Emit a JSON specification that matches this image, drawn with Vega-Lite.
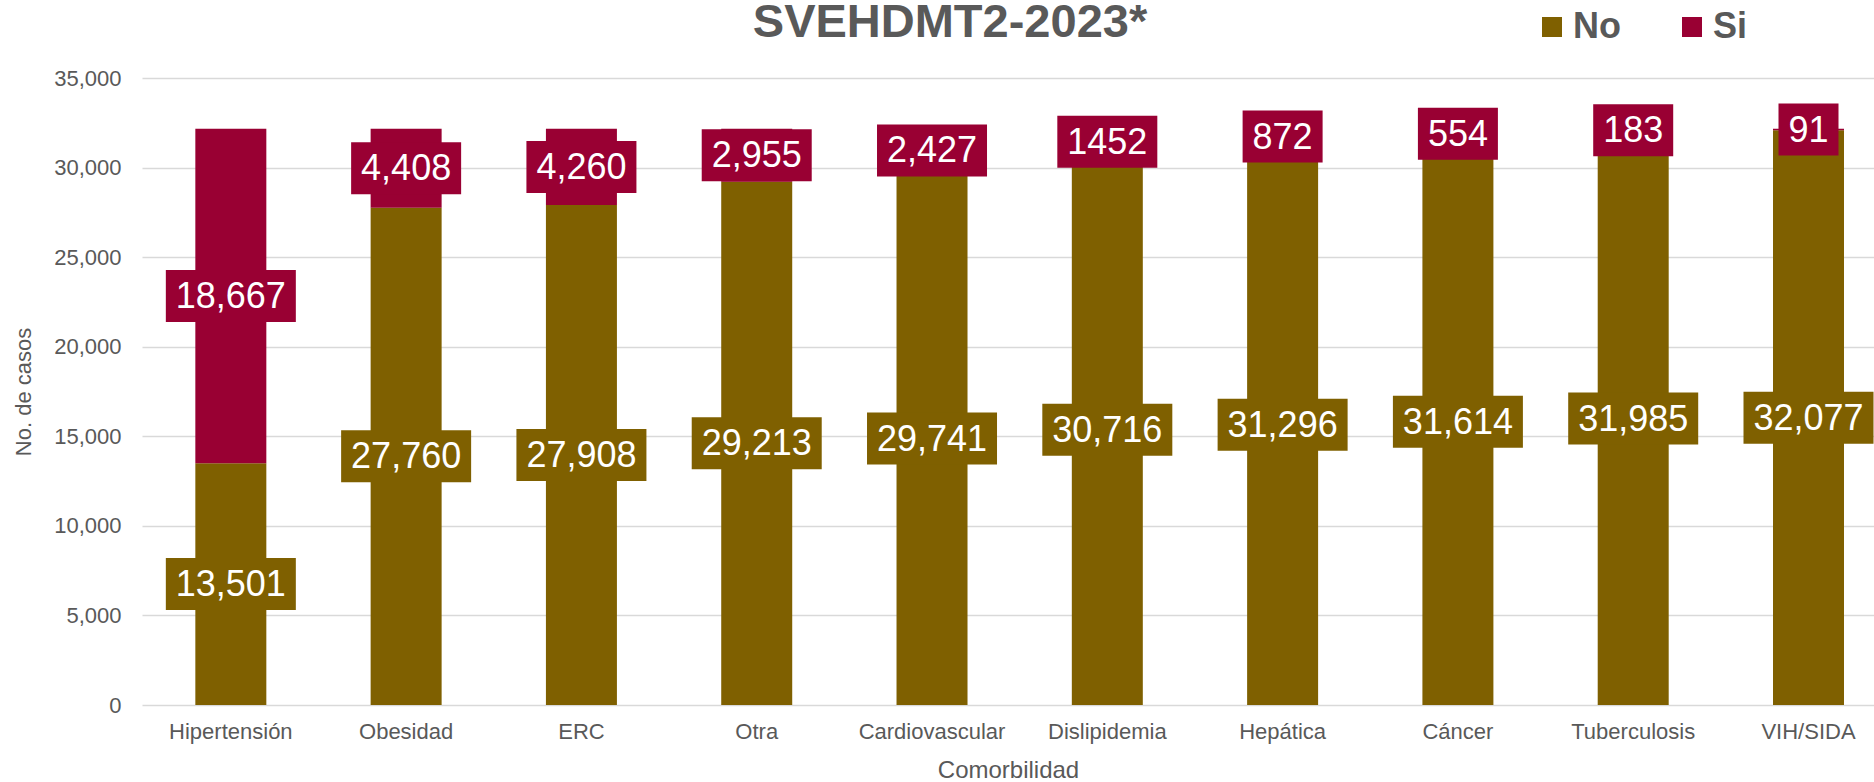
{
  "$schema": "https://vega.github.io/schema/vega-lite/v6.json",
  "width": 1732,
  "height": 627,
  "autosize": {"type": "none"},
  "padding": {"left": 142, "top": 78, "right": 0, "bottom": 77},
  "background": "white",
  "config": {"font": "Liberation Sans", "view": {"stroke": null}},
  "title": {
    "text": "SVEHDMT2-2023*",
    "fontSize": 47,
    "fontWeight": "bold",
    "color": "#595959",
    "anchor": "middle",
    "frame": "group",
    "dx": -58,
    "baseline": "alphabetic",
    "offset": -75
  },
  "data": {
    "values": [
      {"comorbilidad": "Hipertensión", "respuesta": "No", "casos": 13501, "label": "13,501"},
      {"comorbilidad": "Hipertensión", "respuesta": "Si", "casos": 18667, "label": "18,667"},
      {"comorbilidad": "Obesidad", "respuesta": "No", "casos": 27760, "label": "27,760"},
      {"comorbilidad": "Obesidad", "respuesta": "Si", "casos": 4408, "label": "4,408"},
      {"comorbilidad": "ERC", "respuesta": "No", "casos": 27908, "label": "27,908"},
      {"comorbilidad": "ERC", "respuesta": "Si", "casos": 4260, "label": "4,260"},
      {"comorbilidad": "Otra", "respuesta": "No", "casos": 29213, "label": "29,213"},
      {"comorbilidad": "Otra", "respuesta": "Si", "casos": 2955, "label": "2,955"},
      {"comorbilidad": "Cardiovascular", "respuesta": "No", "casos": 29741, "label": "29,741"},
      {"comorbilidad": "Cardiovascular", "respuesta": "Si", "casos": 2427, "label": "2,427"},
      {"comorbilidad": "Dislipidemia", "respuesta": "No", "casos": 30716, "label": "30,716"},
      {"comorbilidad": "Dislipidemia", "respuesta": "Si", "casos": 1452, "label": "1452"},
      {"comorbilidad": "Hepática", "respuesta": "No", "casos": 31296, "label": "31,296"},
      {"comorbilidad": "Hepática", "respuesta": "Si", "casos": 872, "label": "872"},
      {"comorbilidad": "Cáncer", "respuesta": "No", "casos": 31614, "label": "31,614"},
      {"comorbilidad": "Cáncer", "respuesta": "Si", "casos": 554, "label": "554"},
      {"comorbilidad": "Tuberculosis", "respuesta": "No", "casos": 31985, "label": "31,985"},
      {"comorbilidad": "Tuberculosis", "respuesta": "Si", "casos": 183, "label": "183"},
      {"comorbilidad": "VIH/SIDA", "respuesta": "No", "casos": 32077, "label": "32,077"},
      {"comorbilidad": "VIH/SIDA", "respuesta": "Si", "casos": 91, "label": "91"}
    ]
  },
  "transform": [
    {"stack": "casos", "groupby": ["comorbilidad"], "sort": [{"field": "respuesta", "order": "ascending"}], "as": ["y0", "y1"]},
    {"calculate": "(datum.y0 + datum.y1) / 2", "as": "ymid"},
    {"calculate": "20 * length(replace(datum.label, ',', '')) + (indexof(datum.label, ',') >= 0 ? 10 : 0) + 20", "as": "bw"},
    {"calculate": "'M' + (-datum.bw / 200) + ',-0.26L' + (datum.bw / 200) + ',-0.26L' + (datum.bw / 200) + ',0.26L' + (-datum.bw / 200) + ',0.26Z'", "as": "boxpath"}
  ],
  "encoding": {
    "x": {
      "field": "comorbilidad",
      "type": "nominal",
      "sort": null,
      "scale": {"paddingInner": 0.595, "paddingOuter": 0.2377, "align": 0.64},
      "axis": {
        "title": "Comorbilidad",
        "labelAngle": 0,
        "labelFontSize": 22,
        "labelColor": "#595959",
        "labelPadding": 16,
        "ticks": false,
        "domain": false,
        "titleFontSize": 24,
        "titleFontWeight": "normal",
        "titleColor": "#595959",
        "titlePadding": 16
      }
    }
  },
  "layer": [
    {
      "mark": {"type": "bar"},
      "encoding": {
        "y": {
          "field": "y0",
          "type": "quantitative",
          "scale": {"domain": [0, 35000], "nice": false},
          "axis": {
            "title": "No. de casos",
            "labelExpr": "format(datum.value, ',')",
            "values": [0, 5000, 10000, 15000, 20000, 25000, 30000, 35000],
            "labelFontSize": 22,
            "labelColor": "#595959",
            "labelPadding": 21,
            "ticks": false,
            "domain": false,
            "gridColor": "#D9D9D9",
            "gridWidth": 1.5,
            "titleFontSize": 22,
            "titleFontWeight": "normal",
            "titleColor": "#595959",
            "titlePadding": 18
          }
        },
        "y2": {"field": "y1"},
        "color": {
          "field": "respuesta",
          "type": "nominal",
          "scale": {"domain": ["No", "Si"], "range": ["#7F6000", "#990033"]},
          "legend": {
            "orient": "none",
            "legendX": 1392,
            "legendY": -69,
            "direction": "horizontal",
            "title": null,
            "symbolType": "square",
            "symbolSize": 400,
            "symbolStrokeWidth": 0,
            "labelFontSize": 36,
            "labelFontWeight": "bold",
            "labelColor": "#595959",
            "labelOffset": 3,
            "columnPadding": 53,
            "padding": 0
          }
        }
      }
    },
    {
      "mark": {"type": "point", "filled": true, "opacity": 1, "size": 40000, "strokeWidth": 0},
      "encoding": {
        "y": {"field": "ymid", "type": "quantitative"},
        "shape": {"field": "boxpath", "type": "nominal", "scale": null, "legend": null},
        "color": {"field": "respuesta", "type": "nominal", "legend": null}
      }
    },
    {
      "mark": {"type": "text", "color": "white", "font": "Liberation Sans", "fontSize": 36, "baseline": "middle", "align": "center", "dy": 1},
      "encoding": {
        "y": {"field": "ymid", "type": "quantitative"},
        "text": {"field": "label"}
      }
    }
  ]
}
